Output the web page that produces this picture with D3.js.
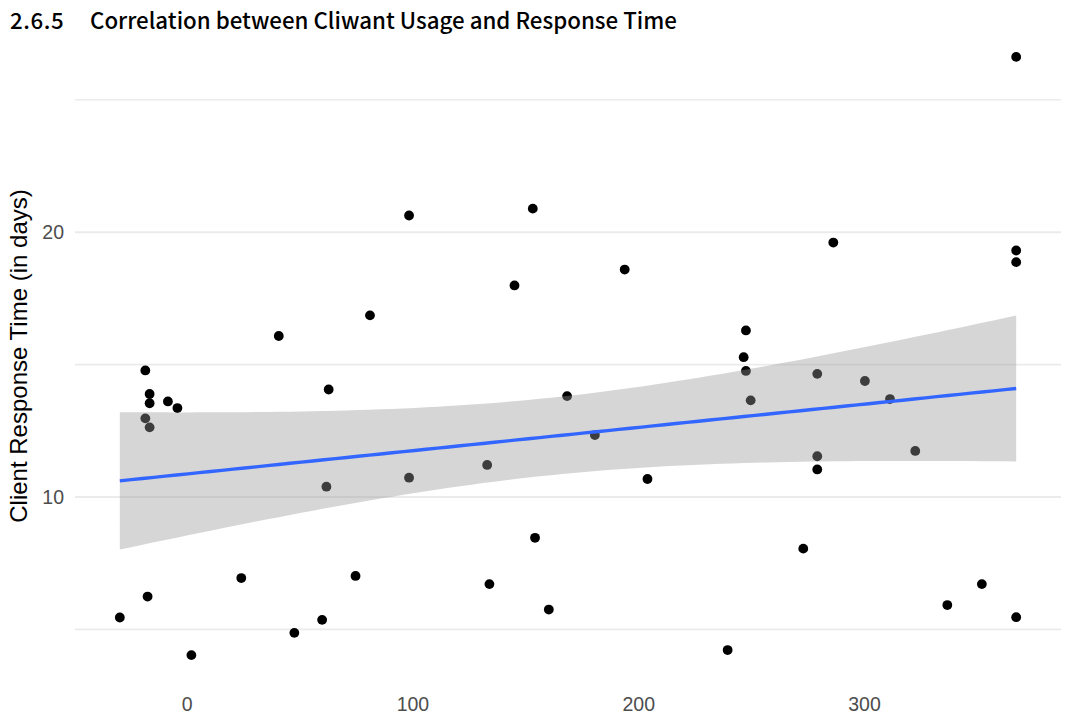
<!DOCTYPE html>
<html>
<head>
<meta charset="utf-8">
<script src="https://cdn.jsdelivr.net/npm/d3@7"></script>
<style>
  html, body { margin: 0; padding: 0; background: #ffffff; }
  svg { display: block; }
</style>
</head>
<body>
<svg id="chart" width="1066" height="719"></svg>
<script>
// ---- data ----
const usage = [
  -29.6, -17.3, -18.3, -16.4, -16.4, -8.3, -4.1, -18.3, -16.4, 2.1,
  24.2, 40.8, 47.7, 60.0, 62.9, 61.9, 74.8, 81.2, 98.5, 98.5,
  133.1, 134.1, 145.2, 153.3, 154.3, 160.4, 168.5, 180.8, 194.0, 204.1,
  239.6, 273.1, 247.7, 246.7, 247.7, 249.8, 279.3, 279.3, 279.3, 286.4,
  300.4, 311.5, 322.7, 336.9, 352.2, 367.4, 367.4, 367.4, 367.4
];
const responseDays = [
  5.45, 6.24, 14.78, 13.89, 13.54, 13.61, 13.36, 12.97, 12.63, 4.03,
  6.94, 16.08, 4.87, 5.36, 14.06, 10.39, 7.02, 16.86, 20.63, 10.73,
  11.21, 6.71, 17.99, 20.89, 8.46, 5.75, 13.81, 12.34, 18.59, 10.68,
  4.22, 8.05, 16.29, 15.28, 14.76, 13.65, 14.65, 11.54, 11.04, 19.61,
  14.38, 13.70, 11.74, 5.92, 6.71, 26.62, 19.31, 18.87, 5.46
];
const xTicks = [0, 100, 200, 300];
const yMajorTicks = [10, 20];
const yMinorTicks = [5, 15, 25];
const titleNumber = "2.6.5";
const titleText = "Correlation between Cliwant Usage and Response Time";
const yLabel = "Client Response Time (in days)";

// ---- layout ----
const svg = d3.select("#chart");
const panel = { left: 75, right: 1061, top: 27, bottom: 685 };

const points = usage.map((u, i) => ({ x: u, y: responseDays[i] }));
const xExt = d3.extent(usage), yExt = d3.extent(responseDays);
const xPad = (xExt[1] - xExt[0]) * 0.05, yPad = (yExt[1] - yExt[0]) * 0.05;

const x = d3.scaleLinear().domain([xExt[0] - xPad, xExt[1] + xPad]).range([panel.left, panel.right]);
const y = d3.scaleLinear().domain([yExt[0] - yPad, yExt[1] + yPad]).range([panel.bottom, panel.top]);

// ---- linear model (like geom_smooth(method = "lm")) ----
const n = points.length;
const xm = d3.mean(usage), ym = d3.mean(responseDays);
let sxx = 0, sxy = 0;
points.forEach(p => { sxx += (p.x - xm) ** 2; sxy += (p.x - xm) * (p.y - ym); });
const b1 = sxy / sxx, b0 = ym - b1 * xm;
let sse = 0;
points.forEach(p => { sse += (p.y - (b0 + b1 * p.x)) ** 2; });
const s = Math.sqrt(sse / (n - 2));
const tCrit = 2.0117; // t(0.975, df = 47)
const fitX = d3.range(80).map(i => xExt[0] + (xExt[1] - xExt[0]) * i / 79);
const fit = fitX.map(xx => {
  const yy = b0 + b1 * xx;
  const se = s * Math.sqrt(1 / n + (xx - xm) ** 2 / sxx);
  return { x: xx, y: yy, lo: yy - tCrit * se, hi: yy + tCrit * se };
});

// ---- grid ----
const grid = svg.append("g");
grid.selectAll("line.minor").data(yMinorTicks).enter().append("line")
  .attr("x1", panel.left).attr("x2", panel.right)
  .attr("y1", d => y(d)).attr("y2", d => y(d))
  .attr("stroke", "#ebebeb").attr("stroke-width", 1.6);
grid.selectAll("line.major").data(yMajorTicks).enter().append("line")
  .attr("x1", panel.left).attr("x2", panel.right)
  .attr("y1", d => y(d)).attr("y2", d => y(d))
  .attr("stroke", "#ebebeb").attr("stroke-width", 2);

// ---- points ----
svg.append("g").selectAll("circle").data(points).enter().append("circle")
  .attr("cx", d => x(d.x)).attr("cy", d => y(d.y)).attr("r", 4.9)
  .attr("fill", "#000000");

// ---- confidence band ----
svg.append("path").datum(fit)
  .attr("d", d3.area().x(d => x(d.x)).y0(d => y(d.lo)).y1(d => y(d.hi)))
  .attr("fill", "#999999").attr("fill-opacity", 0.4);

// ---- fit line ----
svg.append("path").datum(fit)
  .attr("d", d3.line().x(d => x(d.x)).y(d => y(d.y)))
  .attr("fill", "none").attr("stroke", "#3366FF").attr("stroke-width", 3.4);

// ---- axes (labels only, as in theme_minimal) ----
const xAxis = d3.axisBottom(x).tickValues(xTicks).tickSize(0).tickPadding(0);
const gx = svg.append("g").attr("transform", `translate(0,${panel.bottom + 12})`).call(xAxis);
gx.select(".domain").remove();
gx.selectAll("text").attr("font-family", "Liberation Sans, Arial, sans-serif")
  .attr("font-size", 19.5).attr("fill", "#4d4d4d").attr("dy", "0.72em");

const yAxis = d3.axisLeft(y).tickValues(yMajorTicks).tickSize(0).tickPadding(0);
const gy = svg.append("g").attr("transform", `translate(${panel.left - 11},0)`).call(yAxis);
gy.select(".domain").remove();
gy.selectAll("text").attr("font-family", "Liberation Sans, Arial, sans-serif")
  .attr("font-size", 19.5).attr("fill", "#4d4d4d");

// ---- y label ----
svg.append("text")
  .attr("transform", `translate(27,${(panel.top + panel.bottom) / 2}) rotate(-90)`)
  .attr("text-anchor", "middle")
  .attr("font-family", "Liberation Sans, Arial, sans-serif")
  .attr("font-size", 24).attr("fill", "#000000")
  .text(yLabel);

// ---- title ----
const title = svg.append("g").attr("font-family", "Noto Sans CJK KR, Noto Sans, sans-serif")
  .attr("font-size", 22.3).attr("font-weight", 500).attr("fill", "#000000");
title.append("text").attr("x", 10).attr("y", 29).attr("letter-spacing", 0.6).text(titleNumber);
title.append("text").attr("x", 90).attr("y", 29).text(titleText);
</script>
</body>
</html>
